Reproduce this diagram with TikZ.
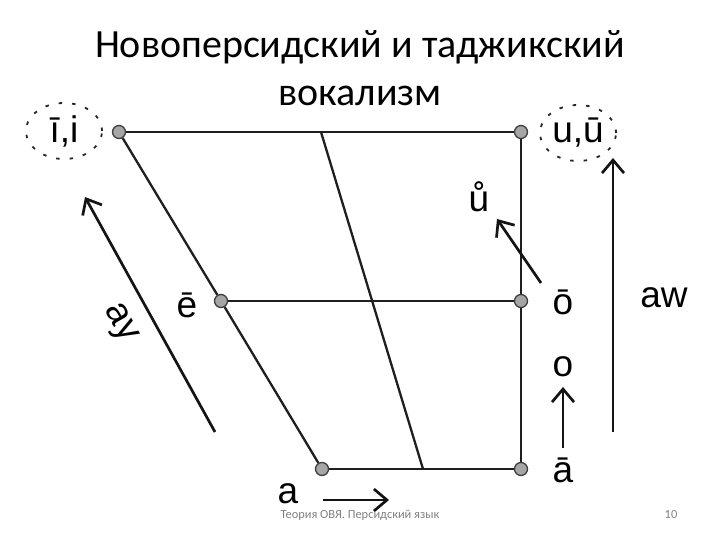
\documentclass[tikz,border=0pt]{standalone}
\usepackage{fontspec}
\setmainfont{Liberation Sans}
\newfontfamily\titlefont{Carlito}
\usetikzlibrary{arrows.meta}
\begin{document}
\begin{tikzpicture}[x=1pt,y=-1pt,
  vpt/.style={circle,draw=black!75,fill=black!35,line width=1.3pt,minimum size=13pt,inner sep=0pt},
  edge/.style={draw=black!88,line width=2.3pt},
  arr/.style={draw=black!92,line width=2.7pt,-{Straight Barb[length=13pt,width=22pt,line width=2.7pt]}},
  lab/.style={font=\fontsize{37}{40}\selectfont,inner sep=0pt},
  ring/.style={draw=black!85,dash pattern=on 3.5pt off 10pt,line width=1.8pt}
]
\useasboundingbox (0,0) rectangle (720,540);
% title
\node[font=\titlefont\fontsize{40}{48}\selectfont,align=center] (title) at (360,68) {Новоперсидский и таджикский\\вокализм};
% vowel points
\coordinate (mtop) at (321,132);
\coordinate (mbot) at (423,469);
\draw[edge] (mtop) -- (mbot);
\node[vpt] (i) at (119,132) {};
\node[vpt] (u) at (521,132) {};
\node[vpt] (e) at (221,301) {};
\node[vpt] (o) at (521,301) {};
\node[vpt] (a) at (322,469) {};
\node[vpt] (aa) at (521,469) {};
% frame
\draw[edge] (i) -- (u);
\draw[edge] (e) -- (o);
\draw[edge] (a) -- (aa);
\draw[edge] (u) -- (o);
\draw[edge] (o) -- (aa);
\draw[edge] (i) -- (e);
\draw[edge] (e) -- (a);
% labels
\node[lab] (li) at (64,131) {ī,i};
\draw[ring] (li.center) ellipse [x radius=38pt, y radius=28pt];
\node[lab] (lu) at (578,133) {u,ū};
\draw[ring] (lu.center) ellipse [x radius=38pt, y radius=28pt];
\node[lab] (lur) at (479,197) {ů};
\node[lab] (le) at (187,305) {ē};
\node[lab] (lo) at (563,302) {ō};
\node[lab] (law) at (664,298) {aw};
\node[lab] (lo2) at (563,367) {o};
\node[lab] (laa) at (563,470) {ā};
\node[lab] (la) at (288,494) {a};
\node[lab,rotate=-61] (lay) at (119,324) {ay};
% arrows
\coordinate (ays) at (215,432); \coordinate (aye) at (85,197);
\draw[arr] (ays) -- (aye);
\coordinate (urs) at (541,283); \coordinate (ure) at (497,219);
\draw[arr] (urs) -- (ure);
\coordinate (aws) at (613,432); \coordinate (awe) at (613,158);
\draw[arr] (aws) -- (awe);
\coordinate (os) at (563,448); \coordinate (oe) at (563,387);
\draw[arr] (os) -- (oe);
\coordinate (as) at (323,500); \coordinate (ae) at (389,500);
\draw[arr] (as) -- (ae);
% footer
\node[font=\titlefont\fontsize{12.4}{14}\selectfont,text=black!50] (foot) at (360,515) {Теория ОВЯ. Персидский язык};
\node[font=\titlefont\fontsize{12.4}{14}\selectfont,text=black!50] (pg) at (671,515) {10};
\end{tikzpicture}
\end{document}
